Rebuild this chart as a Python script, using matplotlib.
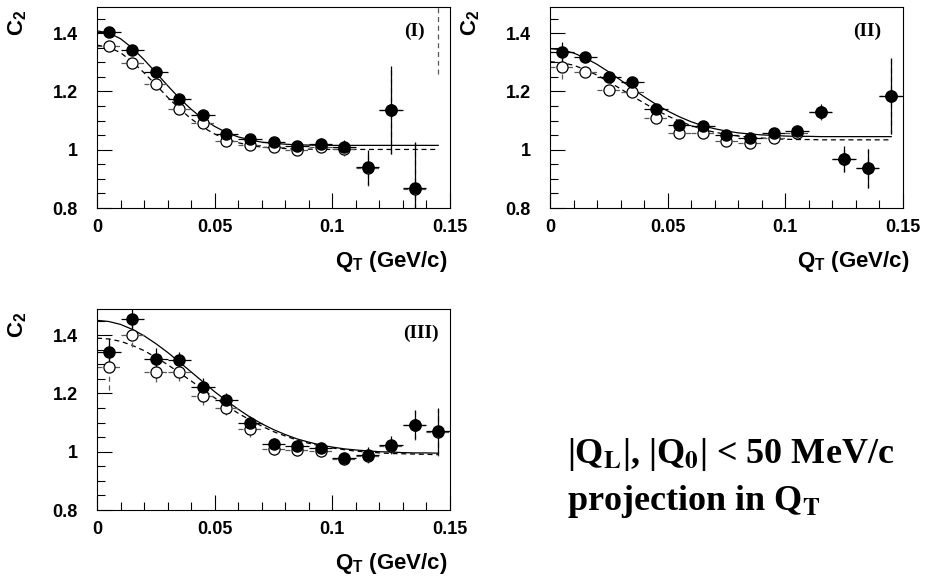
import numpy as np
import matplotlib
matplotlib.use("Agg")
import matplotlib.pyplot as plt
from matplotlib.ticker import MultipleLocator

plt.rcParams['font.family'] = ['Liberation Sans', 'DejaVu Sans']
plt.rcParams['font.weight'] = 'bold'
plt.rcParams['mathtext.fontset'] = 'custom'
plt.rcParams['mathtext.rm'] = 'Liberation Sans:bold'
plt.rcParams['mathtext.bf'] = 'Liberation Sans:bold'
plt.rcParams['mathtext.it'] = 'Liberation Sans:bold'

# bin centres in Q_T (GeV/c)
qt = [0.005, 0.015, 0.025, 0.035, 0.045, 0.055, 0.065, 0.075,
      0.085, 0.095, 0.105, 0.115, 0.125, 0.135, 0.145]
nan = np.nan

# panel (I)
c2_full_1 = [1.403, 1.344, 1.266, 1.174, 1.120, 1.054, 1.037, 1.026,
             1.013, 1.021, 1.010, 0.940, 1.137, 0.869, nan]
err_full_1 = [0.012, 0.012, 0.012, 0.012, 0.012, 0.012, 0.012, 0.012,
              0.015, 0.018, 0.025, 0.060, 0.150, 0.157, nan]
c2_open_1 = [1.357, 1.297, 1.225, 1.141, 1.091, 1.030, 1.016, 1.009,
             0.999, 1.009, 1.003, 0.937, 1.135, 0.866, 1.600]
err_open_1 = [0.012, 0.012, 0.012, 0.012, 0.012, 0.012, 0.012, 0.012,
              0.015, 0.018, 0.025, 0.060, 0.150, 0.160, 0.340]

# panel (II)
c2_full_2 = [1.334, 1.320, 1.248, 1.234, 1.141, 1.084, 1.082, 1.049,
             1.041, 1.056, 1.064, 1.131, 0.967, 0.936, 1.185]
err_full_2 = [0.035, 0.015, 0.015, 0.015, 0.015, 0.015, 0.015, 0.015,
              0.015, 0.015, 0.020, 0.026, 0.045, 0.066, 0.130]
c2_open_2 = [1.283, 1.268, 1.206, 1.199, 1.110, 1.059, 1.059, 1.030,
             1.024, 1.041, 1.059, 1.128, 0.967, 0.936, 1.185]
err_open_2 = [0.040, 0.015, 0.015, 0.015, 0.015, 0.015, 0.015, 0.015,
              0.015, 0.015, 0.020, 0.026, 0.045, 0.066, 0.130]

# panel (III)
c2_full_3 = [1.341, 1.455, 1.320, 1.314, 1.222, 1.176, 1.097, 1.027,
             1.021, 1.013, 0.980, 0.990, 1.024, 1.093, 1.070]
err_full_3 = [0.050, 0.045, 0.035, 0.030, 0.030, 0.025, 0.025, 0.020,
              0.020, 0.020, 0.020, 0.025, 0.030, 0.050, 0.080]
c2_open_3 = [1.292, 1.399, 1.273, 1.273, 1.192, 1.151, 1.077, 1.009,
             1.006, 1.003, 0.974, 0.986, 1.021, 1.091, 1.067]
err_open_3 = [0.080, 0.040, 0.035, 0.030, 0.030, 0.025, 0.025, 0.020,
              0.020, 0.020, 0.020, 0.025, 0.030, 0.050, 0.080]

# fit curves
fit_q = [0.000, 0.005, 0.010, 0.015, 0.020, 0.025, 0.030, 0.035, 0.040, 0.045,
         0.050, 0.055, 0.060, 0.065, 0.070, 0.075, 0.080, 0.085, 0.090, 0.095,
         0.100, 0.105, 0.110, 0.115, 0.120, 0.125, 0.130, 0.135, 0.140, 0.145]
fit_full_1 = [1.408, 1.401, 1.381, 1.349, 1.309, 1.265, 1.220, 1.177, 1.139, 1.106,
              1.080, 1.059, 1.044, 1.034, 1.026, 1.022, 1.019, 1.017, 1.016, 1.015,
              1.015, 1.015, 1.015, 1.015, 1.015, 1.015, 1.015, 1.015, 1.015, 1.015]
fit_open_1 = [1.359, 1.352, 1.333, 1.302, 1.264, 1.223, 1.180, 1.141, 1.106, 1.077,
              1.054, 1.036, 1.024, 1.015, 1.009, 1.006, 1.004, 1.002, 1.002, 1.001,
              1.001, 1.001, 1.001, 1.001, 1.001, 1.001, 1.001, 1.001, 1.001, 1.001]
fit_full_2 = [1.347, 1.343, 1.332, 1.315, 1.293, 1.267, 1.239, 1.210, 1.182, 1.156,
              1.133, 1.113, 1.096, 1.082, 1.072, 1.064, 1.058, 1.054, 1.051, 1.049,
              1.047, 1.046, 1.046, 1.045, 1.045, 1.045, 1.045, 1.045, 1.045, 1.045]
fit_open_2 = [1.302, 1.299, 1.290, 1.275, 1.256, 1.233, 1.209, 1.184, 1.160, 1.137,
              1.116, 1.098, 1.083, 1.070, 1.060, 1.053, 1.047, 1.043, 1.040, 1.038,
              1.036, 1.035, 1.035, 1.034, 1.034, 1.034, 1.034, 1.034, 1.034, 1.034]
fit_full_3 = [1.451, 1.447, 1.437, 1.420, 1.398, 1.371, 1.341, 1.308, 1.274, 1.240,
              1.206, 1.175, 1.146, 1.119, 1.096, 1.076, 1.059, 1.044, 1.033, 1.023,
              1.016, 1.010, 1.006, 1.003, 1.000, 0.999, 0.997, 0.996, 0.996, 0.995]
fit_open_3 = [1.390, 1.387, 1.379, 1.365, 1.347, 1.324, 1.299, 1.271, 1.243, 1.214,
              1.185, 1.158, 1.132, 1.109, 1.088, 1.069, 1.054, 1.040, 1.029, 1.020,
              1.013, 1.007, 1.002, 0.999, 0.996, 0.994, 0.993, 0.992, 0.991, 0.990]

xticks = [0, 0.05, 0.1, 0.15]
xticklabels = ['0', '0.05', '0.1', '0.15']
yticks = [0.8, 1.0, 1.2, 1.4]
yticklabels = ['0.8', '1', '1.2', '1.4']
panel_names = ['(I)', '(II)', '(III)']

fig = plt.figure(figsize=(9.25, 5.77), dpi=100)
ax1 = fig.add_axes([0.1049, 0.6395, 0.3816, 0.3484])
ax2 = fig.add_axes([0.5946, 0.6395, 0.3816, 0.3484])
ax3 = fig.add_axes([0.1049, 0.1161, 0.3816, 0.3484])


def draw_panel(ax, full, efull, opn, eopn, ffull, fopn, name, name_x, xlab_x):
    # fits
    ax.plot(fit_q, fopn, color='black', lw=0.9, dashes=(4, 3))
    ax.plot(fit_q, ffull, color='black', lw=0.9)
    # open points, dashed error bars
    eb = ax.errorbar(qt, opn, xerr=0.005, yerr=eopn, fmt='o', ms=8,
                     mfc='white', mec='black', mew=0.9, ecolor='0.35',
                     elinewidth=0.9, capsize=0)
    for lc in eb[2]:
        lc.set_linestyle((0, (4, 3)))
    # filled points
    ax.errorbar(qt, full, xerr=0.005, yerr=efull, fmt='o', ms=8,
                mfc='black', mec='black', ecolor='black',
                elinewidth=0.9, capsize=0)

    ax.set_xlim(0, 0.15)
    ax.set_ylim(0.8, 1.49)
    ax.set_xticks(xticks)
    ax.set_xticklabels(xticklabels)
    ax.set_yticks(yticks)
    ax.set_yticklabels(yticklabels)
    ax.xaxis.set_minor_locator(MultipleLocator(0.01))
    ax.yaxis.set_minor_locator(MultipleLocator(0.05))
    ax.tick_params(which='both', direction='in', top=False, right=False,
                   width=0.8, labelsize=13)
    ax.tick_params(which='major', length=10.5)
    ax.tick_params(which='minor', length=5.5)
    ax.tick_params(axis='y', pad=14)
    ax.tick_params(axis='x', pad=8)
    for lab in ax.get_xticklabels() + ax.get_yticklabels():
        lab.set_fontweight('bold')
    for sp in ax.spines.values():
        sp.set_linewidth(0.8)

    ax.text(name_x, 0.88, name, transform=ax.transAxes, ha='center',
            va='center', fontsize=14, fontweight='bold',
            family=['Liberation Serif', 'DejaVu Serif'])
    ax.text(xlab_x, -0.293, r'Q$_{\mathbf{T}}$ (GeV/c)', transform=ax.transAxes,
            ha='right', va='baseline', fontsize=16, fontweight='bold')
    ax.text(-0.225, 0.985, r'C$_{\mathbf{2}}$', transform=ax.transAxes,
            ha='center', va='top', rotation=90, fontsize=16, fontweight='bold')


draw_panel(ax1, c2_full_1, err_full_1, c2_open_1, err_open_1,
           fit_full_1, fit_open_1, panel_names[0], 0.898, 0.994)
draw_panel(ax2, c2_full_2, err_full_2, c2_open_2, err_open_2,
           fit_full_2, fit_open_2, panel_names[1], 0.898, 1.02)
draw_panel(ax3, c2_full_3, err_full_3, c2_open_3, err_open_3,
           fit_full_3, fit_open_3, panel_names[2], 0.917, 0.994)

serif = ['Liberation Serif', 'DejaVu Serif']
fig.text(0.613, 0.1976, r'|Q$_{\mathbf{L}}$|, |Q$_{\mathbf{0}}$| < 50 MeV/c',
         fontsize=26, fontweight='bold', family=serif, math_fontfamily='stix',
         va='baseline', ha='left')
fig.text(0.613, 0.116, r'projection in Q$_{\mathbf{T}}$',
         fontsize=26, fontweight='bold', family=serif, math_fontfamily='stix',
         va='baseline', ha='left')

fig.savefig('out.png', dpi=100)
